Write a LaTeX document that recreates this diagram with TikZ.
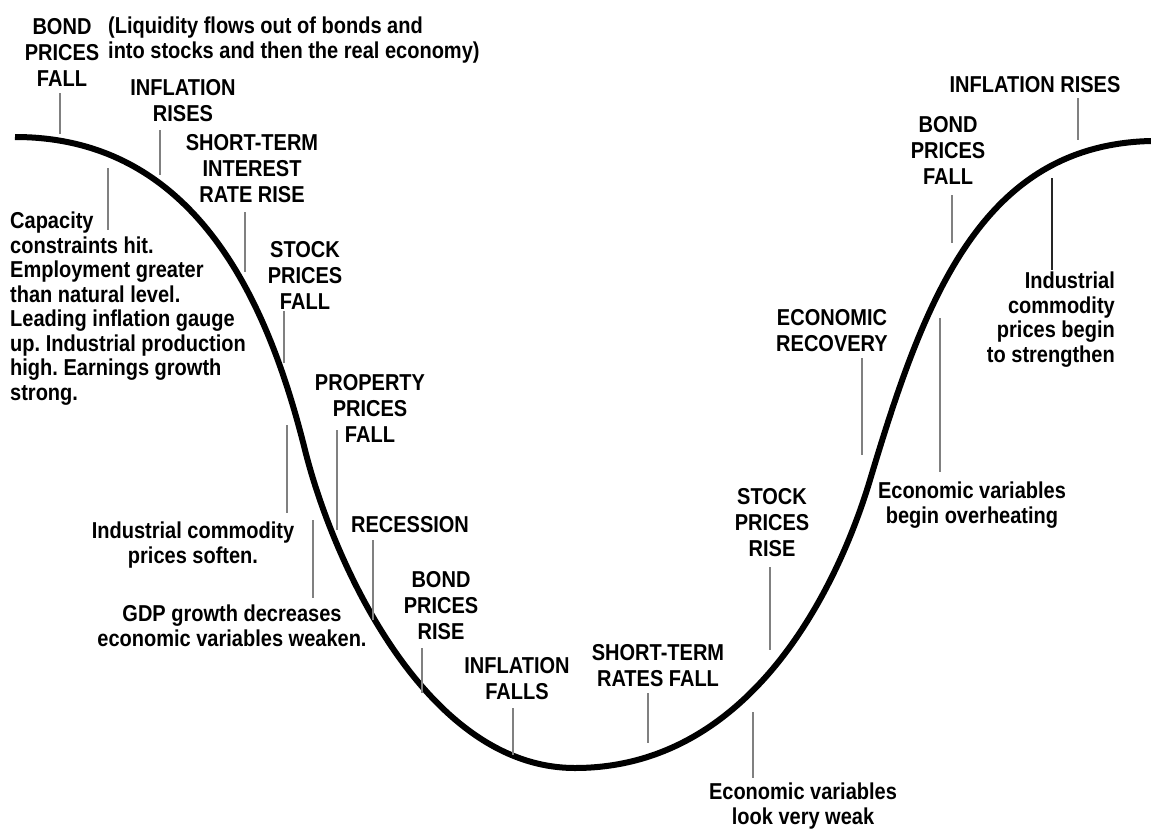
\documentclass[tikz,border=0pt]{standalone}
\usepackage{fontspec}
\setmainfont{Liberation Sans}[FakeStretch=0.87]
\frenchspacing

\begin{document}
\begin{tikzpicture}[
x=1pt, y=-1pt,
curve/.style={line width=6pt},
tick/.style={draw=gray, line width=1.8pt},
darktick/.style={draw=black!85, line width=1.4pt},
lbl/.style={font=\bfseries\fontsize{23}{26}\selectfont, align=center, inner sep=0pt},
note/.style={font=\bfseries\fontsize{23}{24.5}\selectfont, inner sep=0pt}
]
\useasboundingbox (0,0) rectangle (1151,835);

% the cycle
\draw[curve] (15,137) .. controls (200,137) and (270,310) .. (305,450)
  .. controls (332.5,560) and (425,768) .. (575,768)
  .. controls (755,768) and (840,580) .. (870,480)
  .. controls (924,300) and (981,145) .. (1151,141);

% tick ends on the curve
\coordinate (tbondL) at (60,134);
\coordinate (tinflL) at (160,175);
\coordinate (tshortL) at (245,272);
\coordinate (tstockF) at (284,363);
\coordinate (tpropF) at (337,530);
\coordinate (trecess) at (373,620);
\coordinate (tbondR) at (422,693);
\coordinate (tinflF) at (513,755);
\coordinate (tshortF) at (648,743);
\coordinate (tstockR) at (770,650);
\coordinate (trecov) at (862,455);
\coordinate (tbondF) at (952,243);
\coordinate (tinflR) at (1078,140);
\coordinate (tcapac) at (108,168);
\coordinate (tsoften) at (287,425);
\coordinate (tgdp) at (313,520);
\coordinate (tweak) at (753,712);
\coordinate (theat) at (940,318);
\coordinate (tstrong) at (1052,178);

% labels above the curve
\node[lbl, anchor=south] (bondL) at (62,87) {BOND\\PRICES\\FALL};
\node[note, anchor=north west, align=left] (liquid) at (108,17) {(Liquidity flows out of bonds and\\into stocks and then the real economy)};
\node[lbl, anchor=south] (inflL) at (183,122) {INFLATION\\RISES};
\node[lbl, anchor=south] (shortL) at (252,203) {SHORT-TERM\\INTEREST\\RATE RISE};
\node[lbl, anchor=south] (stockF) at (305,310) {STOCK\\PRICES\\FALL};
\node[lbl, anchor=south] (propF) at (370,443) {PROPERTY\\PRICES\\FALL};
\node[lbl, anchor=south] (recess) at (410,533) {RECESSION};
\node[lbl, anchor=south] (bondR) at (441,640) {BOND\\PRICES\\RISE};
\node[lbl, anchor=south] (inflF) at (517,700) {INFLATION\\FALLS};
\node[lbl, anchor=south] (shortF) at (658,687) {SHORT-TERM\\RATES FALL};
\node[lbl, anchor=south] (stockR) at (772,557) {STOCK\\PRICES\\RISE};
\node[lbl, anchor=south] (recov) at (832,352) {ECONOMIC\\RECOVERY};
\node[lbl, anchor=south] (bondF) at (948,185) {BOND\\PRICES\\FALL};
\node[lbl, anchor=south] (inflR) at (1035,93) {INFLATION RISES};

% notes below the curve
\node[note, anchor=north west, align=left] (capac) at (10,212) {Capacity\\constraints hit.\\Employment greater\\than natural level.\\Leading inflation gauge\\up. Industrial production\\high. Earnings growth\\strong.};
\node[note, anchor=north, align=center] (soften) at (193,522) {Industrial commodity\\prices soften.};
\node[note, anchor=north, align=center] (gdp) at (232,605) {GDP growth decreases\\economic variables weaken.};
\node[note, anchor=north, align=center] (weak) at (803,783) {Economic variables\\look very weak};
\node[note, anchor=north, align=center] (heat) at (972,482) {Economic variables\\begin overheating};
\node[note, anchor=north east, align=right] (strong) at (1115,272) {Industrial\\commodity\\prices begin\\to strengthen};

% ticks
\draw[tick] ([yshift=-6pt]bondL.south -| tbondL) -- (tbondL);
\draw[tick] ([yshift=-8pt]inflL.south -| tinflL) -- (tinflL);
\draw[tick] ([yshift=-9pt]shortL.south -| tshortL) -- (tshortL);
\draw[tick] ([yshift=-1pt]stockF.south -| tstockF) -- (tstockF);
\draw[tick] ([yshift=13pt]propF.south -| tpropF) -- (tpropF);
\draw[tick] ([yshift=-7pt]recess.south -| trecess) -- (trecess);
\draw[tick] ([yshift=-8pt]bondR.south -| tbondR) -- (tbondR);
\draw[tick] ([yshift=-8pt]inflF.south -| tinflF) -- (tinflF);
\draw[tick] ([yshift=-6pt]shortF.south -| tshortF) -- (tshortF);
\draw[tick] ([yshift=-10pt]stockR.south -| tstockR) -- (tstockR);
\draw[tick] ([yshift=-6pt]recov.south -| trecov) -- (trecov);
\draw[tick] ([yshift=-10pt]bondF.south -| tbondF) -- (tbondF);
\draw[tick] ([yshift=-5pt]inflR.south -| tinflR) -- (tinflR);
\draw[tick] (tcapac) -- ([yshift=-18pt]capac.north -| tcapac);
\draw[tick] (tsoften) -- ([yshift=9pt]soften.north -| tsoften);
\draw[tick] (tgdp) -- ([yshift=7pt]gdp.north -| tgdp);
\draw[tick] (tweak) -- ([yshift=5pt]weak.north -| tweak);
\draw[tick] (theat) -- ([yshift=10pt]heat.north -| theat);
\draw[darktick] (tstrong) -- ([yshift=2pt]strong.north -| tstrong);
\end{tikzpicture}
\end{document}
